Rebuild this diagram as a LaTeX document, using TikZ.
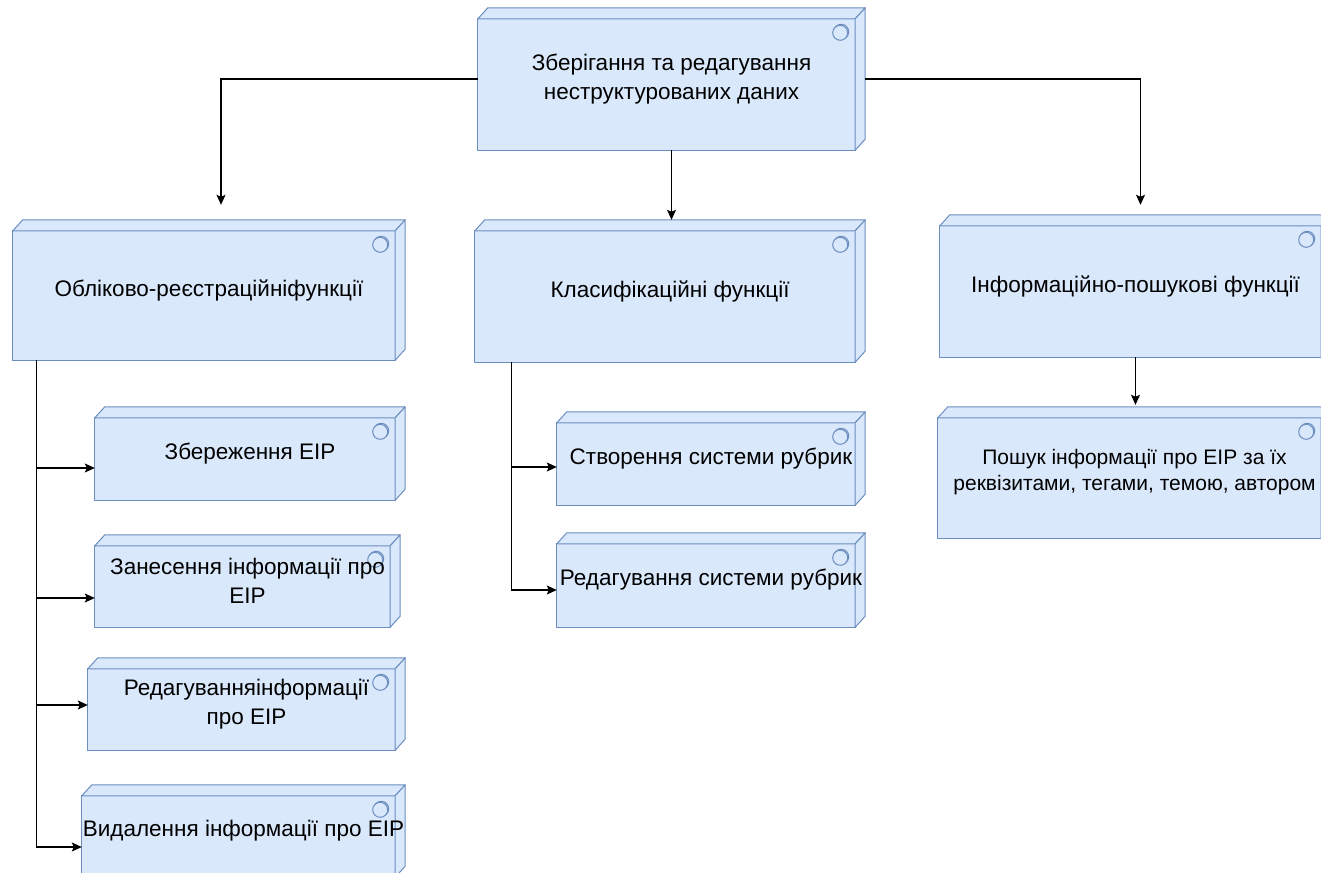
\documentclass[tikz,border=0pt]{standalone}
\usepackage{fontspec}
\setmainfont{Liberation Sans}
\usetikzlibrary{arrows.meta}

\definecolor{boxfill}{HTML}{DAE8FC}
\definecolor{boxline}{HTML}{6C8EBF}

\pgfdeclarelayer{faces}
\pgfsetlayers{faces,main}

\tikzset{
	umlbox/.style={inner sep=0pt, align=center, font=\fontsize{22.5}{29}\selectfont},
	smalltext/.style={font=\fontsize{21}{26}\selectfont},
	boxface/.style={draw=boxline, fill=boxfill, line width=1pt, line join=round},
	conn/.style={draw=black, line width=1.1pt, -{Stealth[length=10pt,width=9pt,inset=2pt]}},
}

\begin{document}
\begin{tikzpicture}[x=1pt,y=-1pt]
	\useasboundingbox (0,0) rectangle (1321,872);
	
	%boxes: name/centre x/centre y/width/height/extra style/text (whole box, depth included)
	\foreach \name/\cx/\cy/\w/\h/\opt/\txt in {
		top/671.5/79/387/142/{}/{Зберігання та редагування\\неструктурованих даних},
		obl/209/290/392/140/{}/{Обліково-реєстраційніфункції},
		klas/670/291/390/142/{}/{Класифікаційні функції},
		info/1135.5/286/391/142/{}/{Інформаційно-пошукові функції},
		zber/250/453.5/310/93/{}/{Збереження ЕІР},
		zanes/247.5/581/305/92/{}/{Занесення інформації про\\ЕІР},
		redinf/246.5/704/317/92/{}/{Редагуванняінформації\\про ЕІР},
		vydal/243.5/831/323/92/{}/{Видалення інформації про ЕІР},
		stvor/711/458.5/308/93/{}/{Створення системи рубрик},
		redrub/711/580/308/94/{}/{Редагування системи рубрик},
		poshuk/1134.5/472.5/393/131/smalltext/{Пошук інформації про ЕІР за їх\\реквізитами, тегами, темою, автором}}{
		\node[umlbox, \opt, minimum width=\w, minimum height=\h] (\name) at (\cx,\cy) {\txt};
		\begin{pgfonlayer}{faces}
			\filldraw[boxface] ([shift={(0,11)}]\name.north west) rectangle ([shift={(-10,0)}]\name.south east);	%front
			\filldraw[boxface] ([shift={(0,11)}]\name.north west) -- ([shift={(10,0)}]\name.north west)
				-- (\name.north east) -- ([shift={(-10,11)}]\name.north east) -- cycle;							%top
			\filldraw[boxface] ([shift={(-10,11)}]\name.north east) -- (\name.north east)
				-- ([shift={(0,-11)}]\name.south east) -- ([shift={(-10,0)}]\name.south east) -- cycle;			%side
			\draw[boxline, line width=1pt] ([shift={(-24,24)}]\name.north east) circle (7.5);
			\filldraw[boxface] ([shift={(-25,25)}]\name.north east) circle (7.5);
		\end{pgfonlayer}
	}
	
	%links from the top box
	\draw[conn] (top.west) -| ([shift={(12,-15)}]obl.north);
	\draw[conn] (top.south) -- (top.south |- klas.north);
	\draw[conn] (top.east) -| ([shift={(5,-10)}]info.north);
	\draw[conn] (info.south) -- ([shift={(0,-2)}]info.south |- poshuk.north);
	
	%trunk on the left
	\foreach \dst/\dy in {zber/14.5, zanes/17, redinf/1, vydal/16}{
		\draw[conn] ([shift={(24,0)}]obl.south west) |- ([shift={(0,\dy)}]\dst.west);}
	
	%trunk in the middle
	\foreach \dst/\dy in {stvor/8.5, redrub/10}{
		\draw[conn] ([shift={(37,0)}]klas.south west) |- ([shift={(0,\dy)}]\dst.west);}
\end{tikzpicture}
\end{document}
